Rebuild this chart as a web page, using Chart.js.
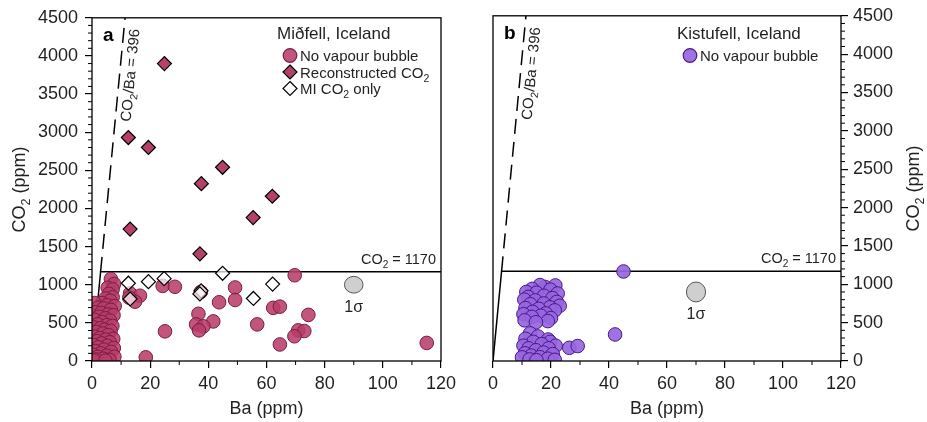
<!DOCTYPE html>
<html>
<head>
<meta charset="utf-8">
<script src="https://cdn.jsdelivr.net/npm/chart.js@4.4.1/dist/chart.umd.min.js"></script>
<style>
  html, body { margin: 0; padding: 0; background: #fff; }
  #wrap { position: relative; width: 927px; height: 422px; }
  canvas { position: absolute; top: 0; }
</style>
</head>
<body>
<div id="wrap">
  <canvas id="chartA" width="463" height="422" style="left:0"></canvas>
  <canvas id="chartB" width="464" height="422" style="left:463px"></canvas>
</div>
<script>
// Ba (ppm), CO2 (ppm) pairs
const midfellBubble = [
  [6.5,1075],[7.6,1010],[5.4,960],[7.1,940],[5.8,880],[7.1,835],[4.6,820],[6.3,790],[3.4,760],[0.9,760],
  [5.2,730],[7.8,720],[2.1,700],[4.0,690],[6.5,670],[1.2,640],[3.1,630],[5.5,610],[7.4,600],[2.4,580],
  [4.6,560],[0.8,540],[6.2,530],[3.5,510],[1.9,480],[5.1,470],[7.0,460],[0.6,440],[2.9,430],[4.3,410],
  [6.4,395],[1.5,380],[3.8,360],[5.6,340],[0.9,320],[2.7,300],[7.3,290],[4.7,280],[1.8,260],[6.1,245],
  [3.3,230],[0.5,210],[5.3,200],[2.2,180],[7.5,170],[4.1,150],[1.1,130],[6.6,120],[3.0,100],[0.4,80],
  [5.0,70],[2.0,55],[7.7,56],[3.9,30],[1.3,20],[6.0,15],[0.7,5],[4.6,5],
  [24.3,985],[28.5,973],[13.1,886],[16.5,856],[14.8,778],[12.8,830],[37.4,905],
  [69.7,1124],[49.2,964],[49.2,800],[43.7,770],[62.3,697],[64.6,713],[74.4,605],[41.7,519],[56.8,480],
  [70.9,402],[73.0,393],[69.6,324],[64.6,217],[115.1,237],[36.6,619],[35.8,480],[38.3,454],[36.8,402],
  [25.1,389],[18.5,48]
];
const midfellRecon = [
  [24.9,3900],[12.5,2930],[19.4,2800],[44.9,2540],[37.6,2325],[62.0,2160],[55.4,1880],[13.1,1730],[37.1,1405]
];
const midfellMIOnly = [
  [12.5,1020],[19.4,1040],[24.8,1080],[44.9,1150],[37.5,920],[37.1,880],[55.5,820],[62.1,1008],[13.1,813]
];
const kistufellBubble = [
  [18.0,965],[21.5,985],[16.2,990],[13.5,940],[19.8,930],[11.5,900],[15.0,890],[22.3,880],[12.1,835],[17.6,850],
  [20.5,820],[10.8,800],[14.6,790],[22.0,770],[17.5,750],[12.9,740],[23.0,720],[19.6,700],[11.2,690],[15.8,680],
  [21.3,660],[13.6,640],[18.2,620],[10.5,610],[16.5,590],[13.4,575],[20.0,560],[10.9,530],[18.9,520],[14.8,505],
  [12.8,360],[15.5,320],[11.2,290],[19.0,280],[13.9,250],[19.7,250],[16.8,220],[10.5,200],[21.6,200],[12.3,165],
  [19.2,165],[14.8,140],[17.4,110],[11.0,100],[20.6,90],[13.2,70],[16.1,50],[10.0,48],[18.9,30],[12.6,20],
  [21.3,15],[15.0,10],
  [26.3,172],[29.2,195],[42.1,346],[45.0,1167]
];
// 1 sigma error ellipses: [Ba, CO2, sigmaBa, sigmaCO2]
const sigmaA = [90, 1000, 3.2, 110];
const sigmaB = [70, 900, 3.3, 130];

const ratio = 396;        // CO2/Ba
const threshold = 1170;   // CO2 ppm
const xRange = [0, 120], yRange = [0, 4500];
const xMajor = 20, xMinor = 10, yMajor = 500, yMinor = 100;

const FONT = '"Liberation Sans", Arial, Helvetica, sans-serif';
const INK = '#231f20';
const PINK = 'rgba(184,62,106,0.88)', PINK_EDGE = '#7a1d44', PINK_SOLID = '#b5416b';
const PURPLE = 'rgba(150,102,222,0.92)', PURPLE_EDGE = '#4b168c';

const pts = arr => arr.map(([x, y]) => ({x, y}));

// draw text with subscripts, parts = [[text, isSub], ...]
function rich(ctx, parts, x, y, size, align) {
  let w = 0;
  parts.forEach(([t, sub]) => { ctx.font = (sub ? size * 0.7 : size) + 'px ' + FONT; w += ctx.measureText(t).width; });
  let cx = align === 'center' ? x - w / 2 : align === 'right' ? x - w : x;
  ctx.textAlign = 'left';
  ctx.textBaseline = 'alphabetic';
  parts.forEach(([t, sub]) => {
    ctx.font = (sub ? size * 0.7 : size) + 'px ' + FONT;
    ctx.fillText(t, cx, sub ? y + size * 0.28 : y);
    cx += ctx.measureText(t).width;
  });
}

function marker(ctx, kind, x, y) {
  ctx.beginPath();
  if (kind === 'circle' || kind === 'circleB') {
    ctx.arc(x, y, 6.8, 0, Math.PI * 2);
  } else {
    ctx.moveTo(x, y - 7); ctx.lineTo(x + 7, y); ctx.lineTo(x, y + 7); ctx.lineTo(x - 7, y); ctx.closePath();
  }
  if (kind === 'circle') { ctx.fillStyle = PINK; ctx.strokeStyle = PINK_EDGE; }
  if (kind === 'circleB') { ctx.fillStyle = PURPLE; ctx.strokeStyle = PURPLE_EDGE; }
  if (kind === 'diamond') { ctx.fillStyle = PINK_SOLID; ctx.strokeStyle = '#000'; }
  if (kind === 'open') { ctx.fillStyle = '#fff'; ctx.strokeStyle = '#000'; }
  ctx.lineWidth = 1.2;
  ctx.fill(); ctx.stroke();
}

const decor = {
  id: 'decor',
  afterDatasetsDraw(chart, args, o) {
    const {ctx, chartArea: a, scales: {x, y}} = chart;
    ctx.save();

    // frame
    ctx.strokeStyle = '#000';
    ctx.lineWidth = 1.3;
    ctx.strokeRect(a.left, a.top, a.right - a.left, a.bottom - a.top);

    // minor ticks
    ctx.lineWidth = 1;
    ctx.beginPath();
    for (let v = xRange[0]; v <= xRange[1]; v += xMinor) {
      if (v % xMajor === 0) continue;
      const p = x.getPixelForValue(v);
      ctx.moveTo(p, a.bottom); ctx.lineTo(p, a.bottom + 4);
    }
    const edge = o.yRight ? a.right : a.left, dir = o.yRight ? 1 : -1;
    for (let v = yRange[0]; v <= yRange[1]; v += yMinor) {
      if (v % yMajor === 0) continue;
      const p = y.getPixelForValue(v);
      ctx.moveTo(edge, p); ctx.lineTo(edge + 4 * dir, p);
    }
    ctx.stroke();

    // 1 sigma ellipse
    const [sx, sy, ex, ey] = o.sigma;
    const cx = x.getPixelForValue(sx), cy = y.getPixelForValue(sy);
    const rx = Math.abs(x.getPixelForValue(sx + ex) - cx), ry = Math.abs(y.getPixelForValue(sy + ey) - cy);
    ctx.beginPath();
    ctx.ellipse(cx, cy, rx, ry, 0, 0, Math.PI * 2);
    ctx.fillStyle = '#cfcfcf'; ctx.strokeStyle = '#555'; ctx.lineWidth = 1;
    ctx.fill(); ctx.stroke();
    ctx.fillStyle = INK;
    ctx.font = '16px ' + FONT; ctx.textAlign = 'center'; ctx.textBaseline = 'alphabetic';
    ctx.fillText('1σ', cx, cy + 27);

    // threshold label
    rich(ctx, [['CO', false], ['2', true], [' = ' + threshold, false]], a.right - 5, y.getPixelForValue(threshold) - 8, 14.5, 'right');

    // ratio label along the dashed line
    const x0 = x.getPixelForValue(0), y0 = y.getPixelForValue(0);
    const x1 = x.getPixelForValue(yRange[1] / ratio), y1 = y.getPixelForValue(yRange[1]);
    const ang = Math.atan2(y1 - y0, x1 - x0);
    const at = 3760;
    ctx.save();
    ctx.translate(x.getPixelForValue(at / ratio), y.getPixelForValue(at));
    ctx.rotate(ang);
    rich(ctx, [['CO', false], ['2', true], ['/Ba = ' + ratio, false]], 0, 15.5, 15, 'center');
    ctx.restore();

    // panel letter
    ctx.font = 'bold 19px ' + FONT; ctx.textAlign = 'left'; ctx.fillStyle = '#000';
    ctx.fillText(o.letter, a.left + 11, a.top + 23);

    // legend
    ctx.fillStyle = INK;
    ctx.font = '17px ' + FONT; ctx.textAlign = 'left';
    ctx.fillText(o.title, o.legX, 39);
    o.entries.forEach((e, i) => {
      const ly = 55.5 + i * 16.5;
      marker(ctx, e.kind, o.legX + 13, ly);
      ctx.fillStyle = INK;
      rich(ctx, e.label, o.legX + 23, ly + 5.5, 15, 'left');
    });

    // axis titles
    rich(ctx, [['Ba (ppm)', false]], (a.left + a.right) / 2, 414, 18, 'center');
    ctx.save();
    ctx.translate(o.yTitleX, (a.top + a.bottom) / 2);
    ctx.rotate(-Math.PI / 2);
    rich(ctx, [['CO', false], ['2', true], [' (ppm)', false]], 0, 0, 18, 'center');
    ctx.restore();

    ctx.restore();
  }
};

function refLines() {
  const knee = threshold / ratio;
  const base = {showLine: true, pointRadius: 0, borderColor: '#000', borderWidth: 1.5, order: 3, clip: 0};
  return [
    Object.assign({}, base, {data: [{x: 0, y: 0}, {x: knee, y: threshold}, {x: xRange[1], y: threshold}]}),
    Object.assign({}, base, {data: [{x: knee, y: threshold}, {x: yRange[1] / ratio, y: yRange[1]}], borderDash: [15, 8]})
  ];
}

function makeChart(id, datasets, cfg) {
  const tickFont = {family: FONT, size: 18};
  return new Chart(document.getElementById(id), {
    type: 'scatter',
    data: {datasets: datasets.concat(refLines())},
    options: {
      responsive: false,
      animation: false,
      layout: {padding: cfg.padding},
      plugins: {legend: {display: false}, tooltip: {enabled: false}, decor: cfg.decor},
      scales: {
        x: {
          type: 'linear', min: xRange[0], max: xRange[1],
          border: {display: false},
          grid: {drawOnChartArea: false, drawTicks: true, tickLength: 7, color: '#000', lineWidth: 1.2},
          ticks: {stepSize: xMajor, color: INK, font: tickFont, padding: 5, maxRotation: 0,
                  callback: v => String(v)},
          afterFit: s => { s.height = 61; }
        },
        y: {
          type: 'linear', min: yRange[0], max: yRange[1], position: cfg.yPos,
          border: {display: false},
          grid: {drawOnChartArea: false, drawTicks: true, tickLength: 7, color: '#000', lineWidth: 1.2},
          ticks: {stepSize: yMajor, color: INK, font: tickFont, padding: cfg.yPad,
                  callback: v => String(v)},
          afterFit: s => { s.width = cfg.yWidth; }
        }
      }
    },
    plugins: [decor]
  });
}

makeChart('chartA', [
  {data: pts(midfellMIOnly), pointStyle: 'rectRot', pointRadius: 7, backgroundColor: 'rgba(255,255,255,0.72)',
   borderColor: '#000', borderWidth: 1.2, order: 0, clip: 0},
  {data: pts(midfellRecon), pointStyle: 'rectRot', pointRadius: 7, backgroundColor: PINK_SOLID,
   borderColor: '#000', borderWidth: 1.2, order: 1, clip: 0},
  {data: pts(midfellBubble), pointStyle: 'circle', pointRadius: 6.8, backgroundColor: PINK,
   borderColor: PINK_EDGE, borderWidth: 1, order: 2, clip: 0}
], {
  padding: {top: 14, right: 22, bottom: 0, left: 0},
  yPos: 'left', yWidth: 92, yPad: 7,
  decor: {
    letter: 'a', yRight: false, sigma: sigmaA, yTitleX: 25,
    title: 'Miðfell, Iceland', legX: 277,
    entries: [
      {kind: 'circle', label: [['No vapour bubble', false]]},
      {kind: 'diamond', label: [['Reconstructed CO', false], ['2', true]]},
      {kind: 'open', label: [['MI CO', false], ['2', true], [' only', false]]}
    ]
  }
});

makeChart('chartB', [
  {data: pts(kistufellBubble), pointStyle: 'circle', pointRadius: 6.8, backgroundColor: PURPLE,
   borderColor: PURPLE_EDGE, borderWidth: 1, order: 2, clip: 0}
], {
  padding: {top: 14, right: 0, bottom: 0, left: 30},
  yPos: 'right', yWidth: 86, yPad: 5,
  decor: {
    letter: 'b', yRight: true, sigma: sigmaB, yTitleX: 455.5,
    title: 'Kistufell, Iceland', legX: 214,
    entries: [
      {kind: 'circleB', label: [['No vapour bubble', false]]}
    ]
  }
});
</script>
</body>
</html>
